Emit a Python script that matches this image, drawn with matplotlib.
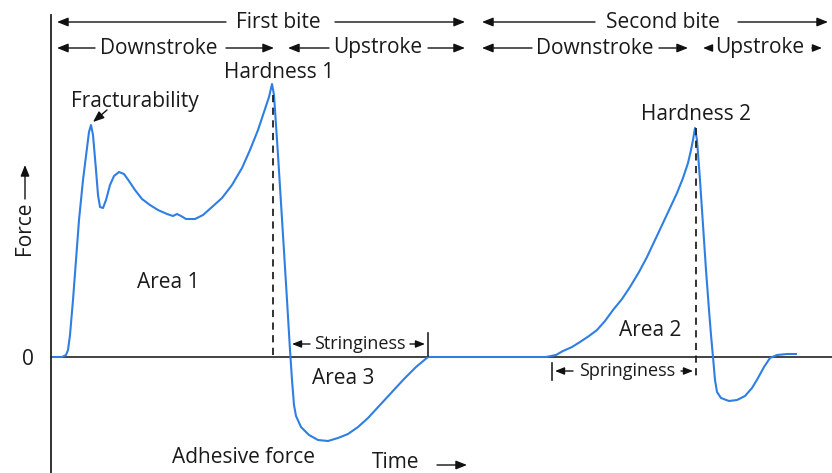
import matplotlib
matplotlib.use("Agg")
import matplotlib.pyplot as plt

# ---- data (time, force) in arbitrary units ----
time_first = [2, 11, 15, 17, 19, 22, 25, 28, 32, 36, 38, 40, 42, 45, 47, 49, 52, 55, 59, 63,
              68, 73, 78, 84, 91, 99, 107, 116, 122, 126, 130, 135, 144, 152, 161, 171, 181,
              191, 199, 207, 213, 218, 221, 223, 227, 232, 236, 239, 241, 243, 245, 250, 258,
              267, 277, 287, 297, 307, 317, 329, 341, 353, 365, 377, 419, 495]
force_first = [0, 0, 2, 7, 22, 57, 97, 137, 177, 209, 225, 232, 222, 187, 162, 150, 149, 157,
               172, 181, 185, 183, 176, 167, 158, 152, 147, 143, 141, 143, 141, 138, 138, 142,
               150, 159, 172, 189, 207, 227, 245, 260, 273, 262, 202, 122, 57, 7, -23, -48,
               -59, -70, -78, -83, -84, -81, -77, -70, -61, -48, -35, -22, -10, 0, 0, 0]

time_second = [505, 512, 521, 529, 538, 546, 554, 562, 571, 579, 588, 596, 604, 612, 619, 626,
               632, 637, 640, 642, 644, 646, 649, 652, 655, 658, 660, 662, 664, 666, 670, 678,
               686, 694, 701, 707, 713, 719, 726, 736, 745]
force_second = [2, 6, 10, 15, 21, 27, 36, 47, 58, 70, 85, 100, 117, 134, 149, 164, 179, 194,
                207, 217, 229, 217, 177, 132, 87, 47, 22, 0, -23, -35, -41, -44, -43, -39,
                -31, -21, -10, -1, 2, 3, 3]

hardness1_time, hardness1_force = 222, 262
hardness2_time, hardness2_force = 645, 229

BLUE = "#2f7fe3"
FONT = ["Open Sans", "DejaVu Sans"]
plt.rcParams["font.family"] = FONT

fig = plt.figure(figsize=(8.32, 4.73), dpi=100)
ax = fig.add_axes([0, 0, 1, 1])
ax.set_xlim(-51, 781)
ax.set_ylim(-116, 357)
ax.axis("off")

# axes lines
ax.plot([0, 0], [-116, 342], color="#222222", lw=1.3)
ax.plot([0, 781], [0, 0], color="#222222", lw=1.2)

# curve
ax.plot(time_first + time_second, force_first + force_second, color=BLUE, lw=1.5,
        solid_joinstyle="round")

# dashed lines
ax.plot([hardness1_time, hardness1_time], [hardness1_force, 0], color="#222222", lw=1.3,
        ls=(0, (4, 3)))
ax.plot([hardness2_time, hardness2_time], [hardness2_force, -23], color="#222222", lw=1.3,
        ls=(0, (4, 3)))

def arrow(x0, y0, x1, y1, ms=12):
    ax.annotate("", xy=(x1, y1), xytext=(x0, y0),
                arrowprops=dict(arrowstyle="-|>,head_length=0.55,head_width=0.22",
                                color="#111111", lw=1.0, mutation_scale=ms,
                                shrinkA=0, shrinkB=0))

TXT = dict(color="#1a1a1a", ha="center", va="center")
FS = 15

# row 1
ax.text(227, 335, "First bite", fontsize=FS, **TXT)
arrow(175, 335, 6, 335)
arrow(284, 335, 414, 335)
ax.text(612, 335, "Second bite", fontsize=FS, **TXT)
arrow(544, 335, 431, 335)
arrow(687, 335, 777, 335)

# row 2
ax.text(108, 309, "Downstroke", fontsize=FS, **TXT)
arrow(44, 309, 6, 309)
arrow(175, 309, 223, 309)
ax.text(327, 309, "Upstroke", fontsize=FS, **TXT)
arrow(278, 309, 237, 309)
arrow(377, 309, 414, 309)
ax.text(544, 309, "Downstroke", fontsize=FS, **TXT)
arrow(481, 309, 431, 309)
arrow(608, 309, 637, 309)
ax.text(709, 309, "Upstroke", fontsize=FS, **TXT)
arrow(658, 309, 652, 309, ms=10)
arrow(761, 309, 771, 309, ms=10)

# labels
ax.text(228, 284, "Hardness 1", fontsize=FS, **TXT)
ax.text(84, 256, "Fracturability", fontsize=FS, **TXT)
arrow(56, 247, 42, 235)
ax.text(645, 243, "Hardness 2", fontsize=FS, **TXT)
ax.text(117, 75, "Area 1", fontsize=FS, **TXT)
ax.text(292, -21, "Area 3", fontsize=FS, **TXT)
ax.text(599, 26, "Area 2", fontsize=FS, **TXT)
ax.text(192, -100, "Adhesive force", fontsize=FS, **TXT)
ax.text(321, -105, "Time", fontsize=FS, color="#1a1a1a", ha="left", va="center")
arrow(386, -108, 416, -108)
ax.text(-26, 129, "Force", fontsize=FS, rotation=90, **TXT)
arrow(-26, 158, -26, 192)
ax.text(-23, -2, "0", fontsize=FS, **TXT)

# stringiness
FS2 = 13
ax.text(309, 13, "Stringiness", fontsize=FS2, **TXT)
arrow(259, 13, 241, 13, ms=10)
arrow(359, 13, 374, 13, ms=10)
ax.plot([377, 377], [1, 24], color="#222222", lw=1.2)

# springiness
ax.text(576, -14, "Springiness", fontsize=FS2, **TXT)
arrow(522, -14, 504, -14, ms=10)
arrow(630, -14, 642, -14, ms=10)
ax.plot([501, 501], [-6, -23], color="#222222", lw=1.2)

fig.savefig("out.png", dpi=100)
